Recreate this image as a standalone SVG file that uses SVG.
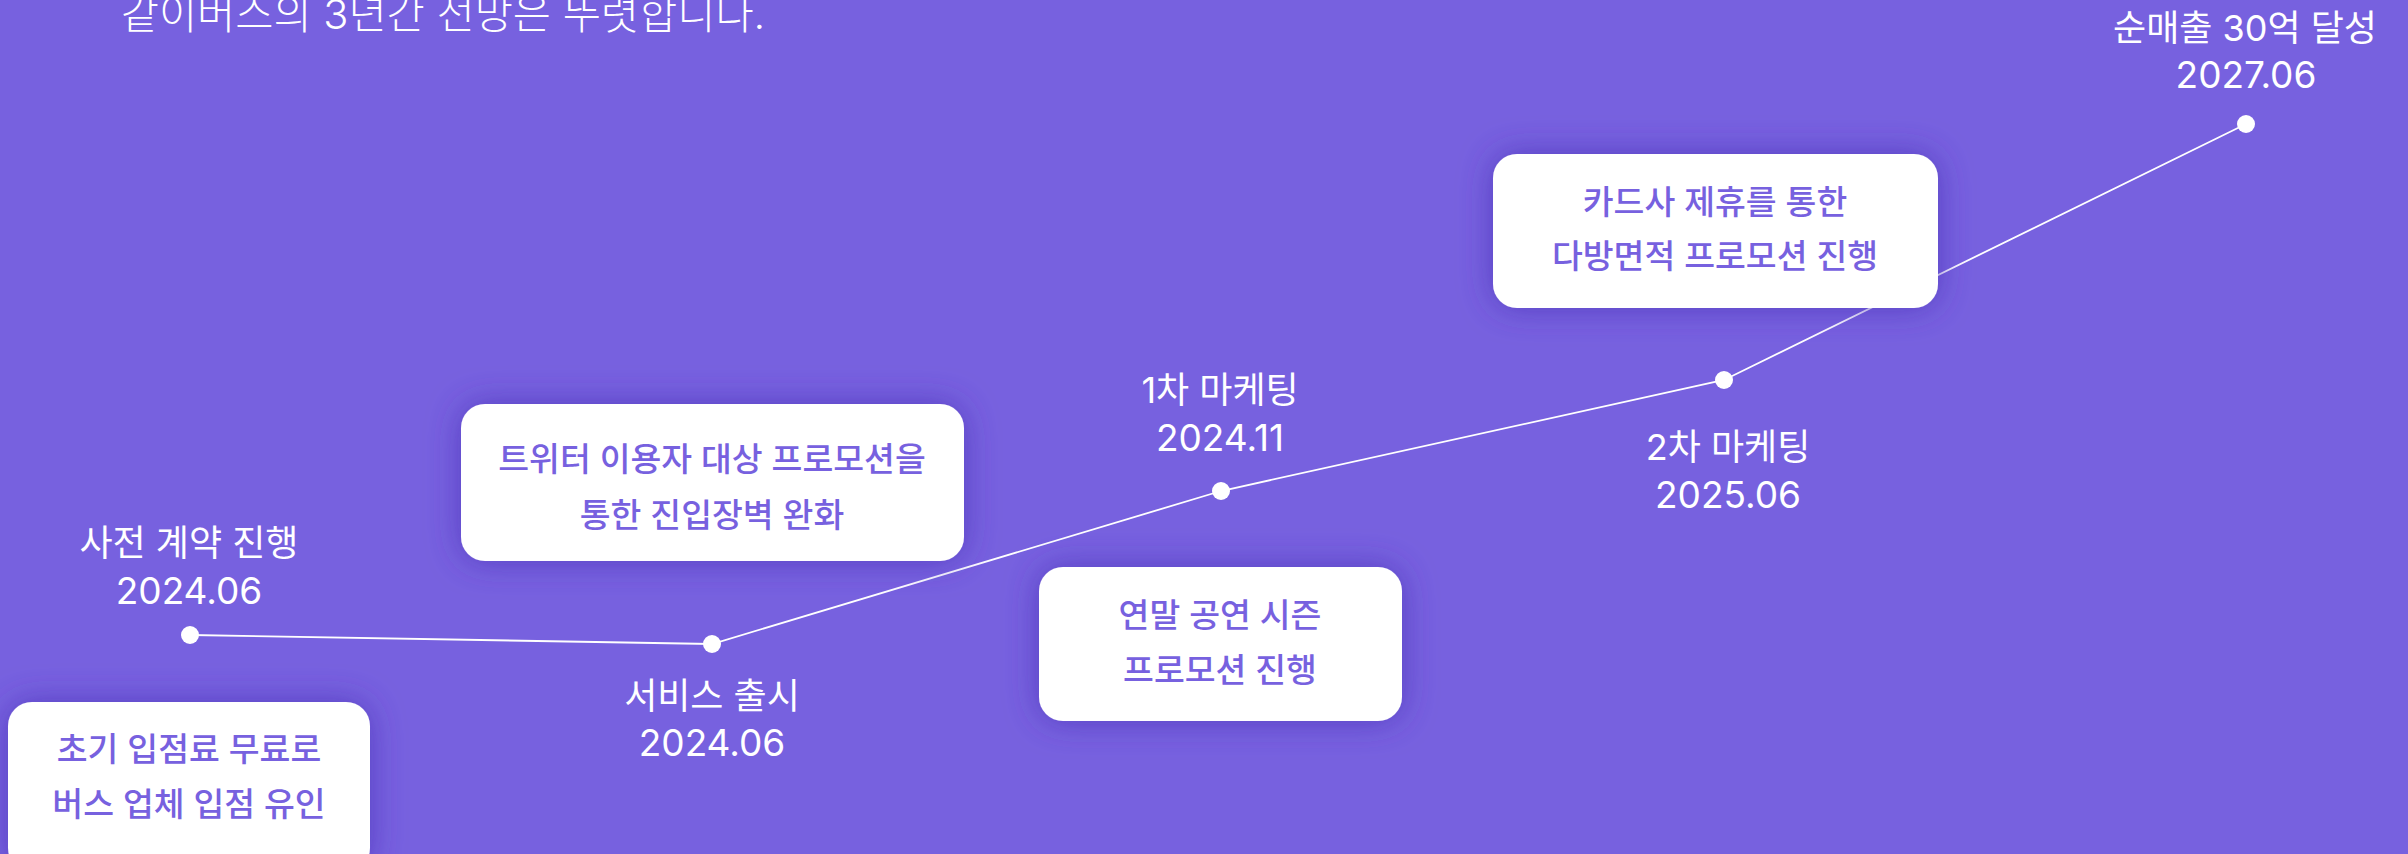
<svg xmlns="http://www.w3.org/2000/svg" width="2408" height="854" viewBox="0 0 2408 854">
  <defs>
    <filter id="glow" x="-30%" y="-50%" width="160%" height="200%">
      <feDropShadow dx="0" dy="0" stdDeviation="16" flood-color="#4a32b8" flood-opacity="0.75"/>
    </filter>
    <style>
      .bg { fill: #7761DF; }
      .box { fill: #ffffff; filter: url(#glow); }
      .btxt { font-family: "Inter", "Noto Sans CJK KR", sans-serif; font-size: 33.5px; font-weight: 500; fill: #7761DF; text-anchor: middle; }
      .lbl { font-family: "Inter", "Noto Sans CJK KR", sans-serif; font-size: 36px; font-weight: 400; fill: #ffffff; text-anchor: middle; }
      .date { font-family: "Inter", "Noto Sans CJK KR", sans-serif; font-size: 37px; font-weight: 400; fill: #ffffff; text-anchor: middle; }
      .title { font-family: "Inter", "Noto Sans CJK KR", sans-serif; font-size: 41.5px; font-weight: 300; fill: #ffffff; text-anchor: middle; }
      .line { stroke: #ffffff; stroke-width: 1.8; fill: none; }
      .dot { fill: #ffffff; }
    </style>
  </defs>
  <rect class="bg" x="0" y="0" width="2408" height="854"/>

  <text class="title" x="443" y="29">같이버스의 3년간 전망은 뚜렷합니다.</text>

  <g id="connectors">
    <polyline class="line" points="190,635 712,644 1221,491 1724,380 2246,124"/>
  </g>

  <g id="box-initial">
    <rect class="box" x="8" y="702" width="362" height="170" rx="24"/>
    <text class="btxt" x="189" y="761">초기 입점료 무료로</text>
    <text class="btxt" x="189" y="816">버스 업체 입점 유인</text>
  </g>

  <g id="box-twitter">
    <rect class="box" x="461" y="404" width="503" height="157" rx="24"/>
    <text class="btxt" x="712" y="471">트위터 이용자 대상 프로모션을</text>
    <text class="btxt" x="712" y="527">통한 진입장벽 완화</text>
  </g>

  <g id="box-yearend">
    <rect class="box" x="1039" y="567" width="363" height="154" rx="24"/>
    <text class="btxt" x="1220" y="627">연말 공연 시즌</text>
    <text class="btxt" x="1220" y="682">프로모션 진행</text>
  </g>

  <g id="box-card">
    <rect class="box" x="1493" y="154" width="445" height="154" rx="24"/>
    <text class="btxt" x="1715" y="214">카드사 제휴를 통한</text>
    <text class="btxt" x="1715" y="268">다방면적 프로모션 진행</text>
  </g>

  <g id="node-precontract">
    <circle class="dot" cx="190" cy="635" r="9"/>
    <text class="lbl" x="189" y="556">사전 계약 진행</text>
    <text class="date" x="189" y="604">2024.06</text>
  </g>

  <g id="node-launch">
    <circle class="dot" cx="712" cy="644" r="9"/>
    <text class="lbl" x="712" y="709">서비스 출시</text>
    <text class="date" x="712" y="756">2024.06</text>
  </g>

  <g id="node-marketing1">
    <circle class="dot" cx="1221" cy="491" r="9"/>
    <text class="lbl" x="1220" y="403">1차 마케팅</text>
    <text class="date" x="1220" y="451">2024.11</text>
  </g>

  <g id="node-marketing2">
    <circle class="dot" cx="1724" cy="380" r="9"/>
    <text class="lbl" x="1728" y="460">2차 마케팅</text>
    <text class="date" x="1728" y="508">2025.06</text>
  </g>

  <g id="node-revenue">
    <circle class="dot" cx="2246" cy="124" r="9"/>
    <text class="lbl" x="2245" y="41">순매출 30억 달성</text>
    <text class="date" x="2246" y="88">2027.06</text>
  </g>
</svg>
